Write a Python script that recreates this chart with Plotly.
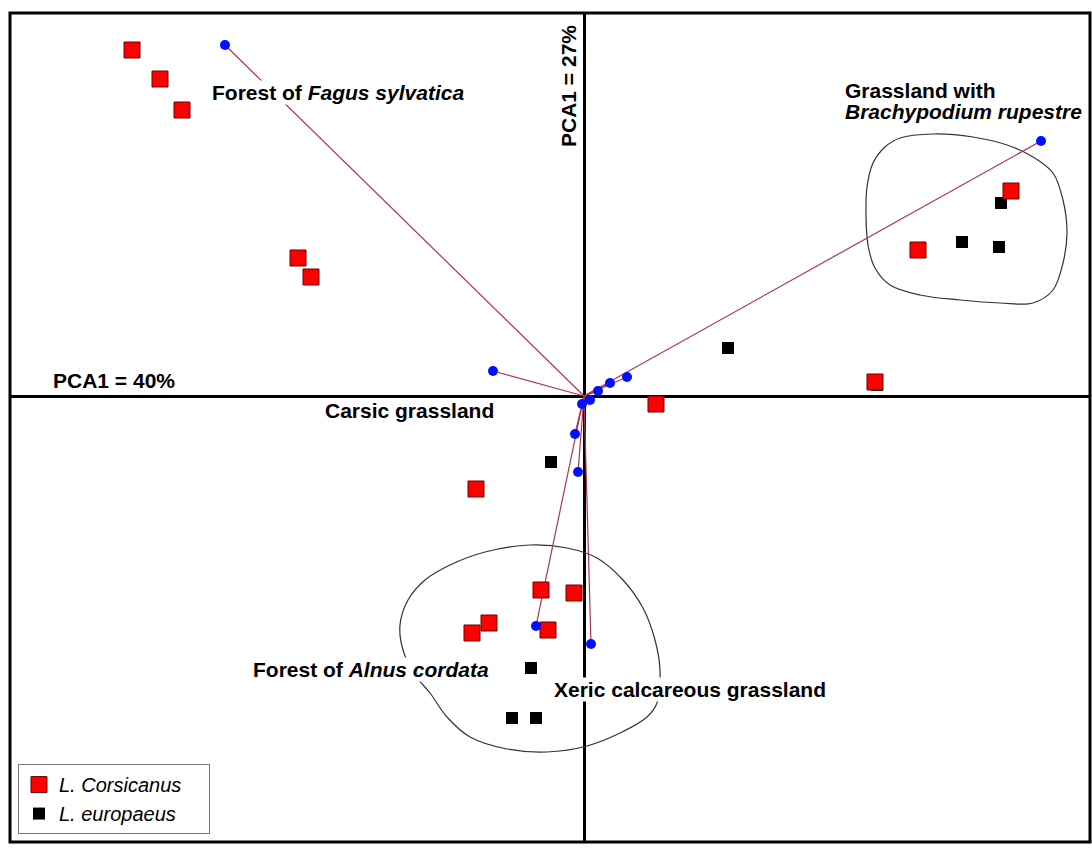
import plotly.graph_objects as go

# L. corsicanus sample scores
cors_x = [-4.52, -4.24, -4.02, -2.86, -2.73, 4.27, 3.34, 2.91, 0.72, -1.08, -0.43, -0.10, -0.95, -1.12, -0.36]
cors_y = [3.46, 3.17, 2.86, 1.38, 1.19, 2.05, 1.46, 0.14, -0.08, -0.93, -1.94, -1.97, -2.27, -2.37, -2.34]

# L. europaeus sample scores
euro_x = [4.17, 3.78, 4.15, 1.44, 2.93, -0.33, -0.53, -0.72, -0.48]
euro_y = [1.93, 1.54, 1.49, 0.48, 0.11, -0.66, -2.72, -3.22, -3.22]

# variable (habitat) loadings
vec_x = [-3.59, -0.91, 4.57, 0.43, 0.26, 0.14, 0.06, -0.02, -0.09, -0.06, -0.48, 0.07]
vec_y = [3.51, 0.25, 2.55, 0.19, 0.13, 0.05, -0.04, -0.08, -0.38, -0.76, -2.30, -2.48]

# hand-drawn group outlines
grass_x = [3.16, 3.49, 3.89, 4.23, 4.49, 4.69, 4.79, 4.83, 4.79, 4.69, 4.49, 4.16, 3.76, 3.36, 3.06, 2.91, 2.84, 2.82, 2.83, 2.89, 3.01, 3.16]
grass_y = [2.58, 2.62, 2.59, 2.51, 2.39, 2.23, 1.96, 1.63, 1.33, 1.06, 0.93, 0.93, 0.96, 1.01, 1.11, 1.28, 1.51, 1.81, 2.09, 2.33, 2.49, 2.58]
alnus_x = [-0.54, -0.17, 0.13, 0.39, 0.59, 0.71, 0.76, 0.73, 0.63, 0.36, 0.03, -0.37, -0.77, -1.14, -1.37, -1.54, -1.69, -1.81, -1.84, -1.76, -1.59, -1.34, -0.99, -0.54]
alnus_y = [-1.49, -1.52, -1.62, -1.84, -2.12, -2.44, -2.74, -3.07, -3.21, -3.37, -3.50, -3.56, -3.53, -3.41, -3.21, -2.97, -2.79, -2.54, -2.29, -2.04, -1.84, -1.69, -1.56, -1.49]

FONT = "Liberation Sans, Arial, sans-serif"

line_x, line_y = [], []
for vx, vy in zip(vec_x, vec_y):
    line_x += [0, vx, None]
    line_y += [0, vy, None]

fig = go.Figure()
fig.add_trace(go.Scatter(x=grass_x, y=grass_y, mode="lines", line=dict(color="#333333", width=1.2, shape="spline", smoothing=1.0),
                         showlegend=False, hoverinfo="skip"))
fig.add_trace(go.Scatter(x=alnus_x, y=alnus_y, mode="lines", line=dict(color="#333333", width=1.2, shape="spline", smoothing=1.0),
                         showlegend=False, hoverinfo="skip"))
fig.add_trace(go.Scatter(x=line_x, y=line_y, mode="lines", line=dict(color="#a8384c", width=1.2),
                         showlegend=False, hoverinfo="skip"))
fig.add_trace(go.Scatter(x=euro_x, y=euro_y, mode="markers", name="<i>L. europaeus</i>\u00a0\u00a0\u00a0\u00a0",
                         marker=dict(symbol="square", size=12, color="#000000"), legendrank=2))
fig.add_trace(go.Scatter(x=cors_x, y=cors_y, mode="markers", name="<i>L. Corsicanus</i>\u00a0\u00a0\u00a0\u00a0",
                         marker=dict(symbol="square", size=16, color="#ff0000", line=dict(color="#6a0000", width=1)), legendrank=1))
fig.add_trace(go.Scatter(x=vec_x, y=vec_y, mode="markers", marker=dict(symbol="circle", size=10, color="#0010ff"),
                         showlegend=False))

def ann(text, x, y, xanchor="left", bg=None, angle=0):
    fig.add_annotation(x=x, y=y, text=text, showarrow=False, xanchor=xanchor, yanchor="middle",
                       textangle=angle, font=dict(family=FONT, size=21, color="#000000"),
                       bgcolor=bg if bg else "rgba(0,0,0,0)", borderpad=0)

ann("<b>Forest of <i>Fagus sylvatica</i></b>", -3.73, 3.04, bg="white")
ann("<b>Carsic grassland</b>", -2.60, -0.14)
ann("<b>Grassland with</b>", 2.60, 3.06)
ann("<b><i>Brachypodium rupestre</i></b>", 2.60, 2.85)
ann("<b>Forest of <i>Alnus cordata</i></b>", -3.32, -2.73, bg="white")
ann("<b>Xeric calcareous grassland</b>", -0.31, -2.93, bg="white")
ann("<b>PCA1 = 40%</b>", -5.32, 0.16)
ann("<b>PCA1 = 27%</b>", -0.16, 3.10, xanchor="center", angle=-90)

fig.add_shape(type="rect", xref="paper", yref="paper", x0=0, x1=1, y0=0, y1=1,
              line=dict(color="#000000", width=3), layer="above")

fig.update_xaxes(range=[-5.74, 5.06], showgrid=False, showticklabels=False, ticks="",
                 zeroline=True, zerolinecolor="#000000", zerolinewidth=3)
fig.update_yaxes(range=[-4.46, 3.83], showgrid=False, showticklabels=False, ticks="",
                 zeroline=True, zerolinecolor="#000000", zerolinewidth=3)

fig.update_layout(
    width=1092, height=848,
    margin=dict(l=10, r=2, t=13, b=6),
    paper_bgcolor="white", plot_bgcolor="white",
    font=dict(family=FONT),
    legend=dict(x=0.0074, y=0.094, xanchor="left", yanchor="top",
                bordercolor="#777777", borderwidth=1, bgcolor="white",
                font=dict(family=FONT, size=20, color="#000000"), tracegroupgap=0),
)

fig.write_html("out.html", config={"displayModeBar": False},
               post_script="document.body.style.margin='0px';document.body.style.overflow='hidden';")
